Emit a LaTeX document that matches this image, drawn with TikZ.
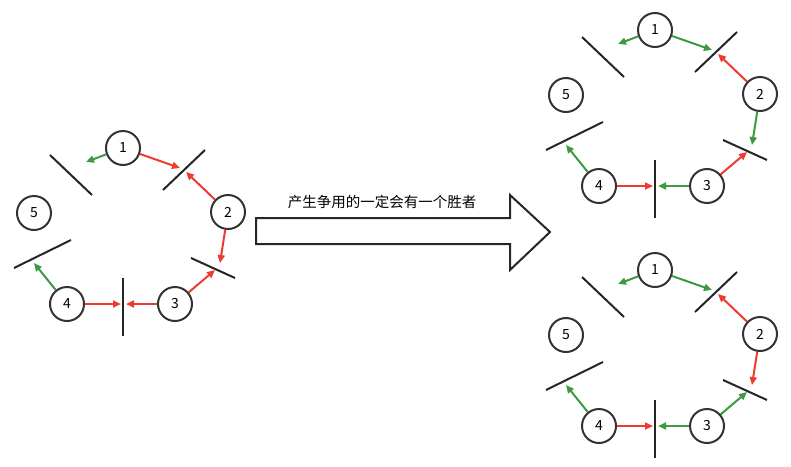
\documentclass[tikz,border=0pt]{standalone}
\usepackage{fontspec}
\setmainfont{Noto Sans CJK SC}
\usetikzlibrary{arrows.meta}
\definecolor{redarr}{HTML}{EE3B30}
\definecolor{greenarr}{HTML}{3D9A40}
\tikzset{
  phil/.style={circle, draw=black!80, line width=2pt, fill=white, minimum size=34pt, inner sep=0pt, font=\fontsize{14}{16}\selectfont},
  fork/.style={line width=2pt, black!85},
  r/.style={draw=redarr, line width=2pt, -{Triangle[length=8pt,width=7pt]}},
  g/.style={draw=greenarr, line width=2pt, -{Triangle[length=8pt,width=7pt]}},
}
% one table of five
\newcommand\philgroup[3]{
\begin{scope}[shift={(#2,#3)}]
\node[phil] (#1c1) at (123,148) {1};
\node[phil] (#1c2) at (228,212) {2};
\node[phil] (#1c3) at (175,304) {3};
\node[phil] (#1c4) at (67,304) {4};
\node[phil] (#1c5) at (34,213) {5};
\draw[fork] (50,155)--(92,195);
\draw[fork] (163,190)--(205,150);
\draw[fork] (191,258)--(235,278);
\draw[fork] (123,278)--(123,336);
\draw[fork] (14,268)--(71,240);
\coordinate (#1a15) at (86,162);
\coordinate (#1a12) at (180,168);
\coordinate (#1a21) at (186,172);
\coordinate (#1a23) at (220,263);
\coordinate (#1a32) at (215,270);
\coordinate (#1a34) at (126,304);
\coordinate (#1a43) at (121,304);
\coordinate (#1a45) at (34,263);
\end{scope}
}
\begin{document}
\begin{tikzpicture}[x=1pt,y=-1pt]
\useasboundingbox (0,0) rectangle (791,466);
\philgroup{L}{0}{0}
\philgroup{T}{532}{-118}
\philgroup{B}{532}{122}
\foreach \s/\t/\c in {c1/a15/g, c1/a12/r, c2/a21/r, c2/a23/r, c3/a32/r, c3/a34/r, c4/a43/r, c4/a45/g}
  \draw[\c] (L\s) -- (L\t);
\foreach \s/\t/\c in {c1/a15/g, c1/a12/g, c2/a21/r, c2/a23/g, c3/a32/r, c3/a34/g, c4/a43/r, c4/a45/g}
  \draw[\c] (T\s) -- (T\t);
\foreach \s/\t/\c in {c1/a15/g, c1/a12/g, c2/a21/r, c2/a23/r, c3/a32/g, c3/a34/g, c4/a43/r, c4/a45/g}
  \draw[\c] (B\s) -- (B\t);
% big arrow
\draw[line width=2pt, black!85, line join=miter] (256,218)--(510,218)--(510,195)--(550,232)--(510,270)--(510,244)--(256,244)--cycle;
\node[font=\fontsize{14.5}{17}\selectfont] (win) at (382,202) {产生争用的一定会有一个胜者};
\end{tikzpicture}
\end{document}
